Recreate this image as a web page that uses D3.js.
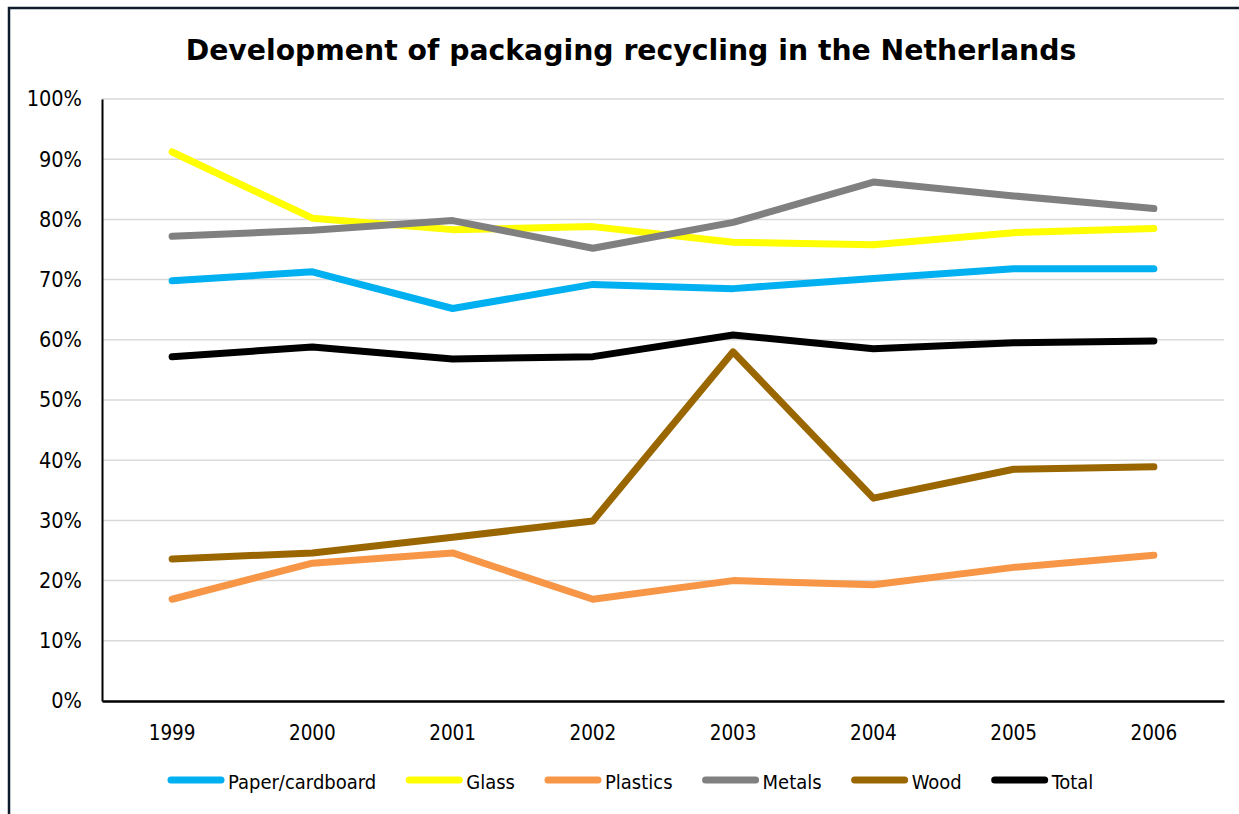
<!DOCTYPE html>
<html><head><meta charset="utf-8">
<script src="https://cdn.jsdelivr.net/npm/d3@7"></script>
<style>html,body{margin:0;padding:0;background:#fff;}svg{display:block;}</style>
</head><body>
<script>
const years = ["1999","2000","2001","2002","2003","2004","2005","2006"];
const paper = [69.8, 71.3, 65.2, 69.2, 68.5, 70.2, 71.8, 71.8];
const glass = [91.2, 80.2, 78.3, 78.8, 76.2, 75.8, 77.8, 78.5];
const plastics = [16.9, 22.9, 24.6, 16.9, 20.0, 19.3, 22.2, 24.2];
const metals = [77.2, 78.2, 79.8, 75.2, 79.5, 86.2, 83.9, 81.8];
const wood = [23.6, 24.6, 27.2, 29.9, 58.0, 33.7, 38.5, 38.9];
const total = [57.2, 58.8, 56.8, 57.2, 60.8, 58.5, 59.5, 59.8];
const seriesNames = ["Paper/cardboard","Glass","Plastics","Metals","Wood","Total"];
const seriesColors = ["#00b0f0","#ffff00","#f79646","#808080","#996600","#000000"];
const yTicks = [0,10,20,30,40,50,60,70,80,90,100];
const title = "Development of packaging recycling in the Netherlands";

const series = [paper, glass, plastics, metals, wood, total];
const W = 1239, H = 814;
const font = "'DejaVu Sans Condensed','DejaVu Sans',sans-serif";
const svg = d3.select("body").append("svg").attr("width", W).attr("height", H);

svg.append("rect").attr("x",9).attr("y",8).attr("width",W+20).attr("height",H+20)
  .attr("fill","#fff").attr("stroke","#0d1b2a").attr("stroke-width",2.5);

const m = {left:102, right:1224, top:99, bottom:701};
const x = d3.scaleBand().domain(years).range([m.left, m.right]).padding(0);
const y = d3.scaleLinear().domain([0,100]).range([m.bottom, m.top]);

// gridlines
svg.append("g").selectAll("line").data(yTicks.filter(d=>d>0)).join("line")
  .attr("x1",m.left).attr("x2",m.right)
  .attr("y1",d=>y(d)).attr("y2",d=>y(d))
  .attr("stroke","#d9d9d9").attr("stroke-width",1.5);

// y axis
const yAxis = d3.axisLeft(y).tickValues(yTicks).tickFormat(d=>d+"%").tickSize(0).tickPadding(20);
const gy = svg.append("g").attr("transform",`translate(${m.left},0)`).call(yAxis);
gy.select(".domain").attr("stroke","#000").attr("stroke-width",2);
gy.selectAll("text").attr("font-family",font).attr("font-size",21.5).attr("fill","#000");

// x axis
const xAxis = d3.axisBottom(x).tickSize(0).tickPadding(24);
const gx = svg.append("g").attr("transform",`translate(0,${m.bottom})`).call(xAxis);
gx.select(".domain").attr("stroke","#000").attr("stroke-width",2.5);
gx.selectAll("text").attr("font-family",font).attr("font-size",20.5).attr("fill","#000");

// lines
const line = d3.line().x((d,i)=>x(years[i])+x.bandwidth()/2).y(d=>y(d));
svg.append("g").selectAll("path").data(series).join("path")
  .attr("d",d=>line(d)).attr("fill","none")
  .attr("stroke",(d,i)=>seriesColors[i]).attr("stroke-width",7)
  .attr("stroke-linejoin","round").attr("stroke-linecap","round");

// title
svg.append("text").attr("x",631).attr("y",60).attr("text-anchor","middle")
  .attr("font-family","'DejaVu Sans',sans-serif").attr("font-weight","bold")
  .attr("font-size",28.3).attr("fill","#000").text(title);

// legend
const lg = svg.append("g");
let lx = 168; const ly = 780;
seriesNames.forEach((n,i)=>{
  lg.append("line").attr("x1",lx+3).attr("x2",lx+53).attr("y1",ly).attr("y2",ly)
    .attr("stroke",seriesColors[i]).attr("stroke-width",7).attr("stroke-linecap","round");
  const t = lg.append("text").attr("x",lx+60).attr("y",ly+9)
    .attr("font-family",font).attr("font-size",20).attr("fill","#000").text(n);
  lx += 60 + t.node().getComputedTextLength() + 30;
});
</script>
</body></html>
